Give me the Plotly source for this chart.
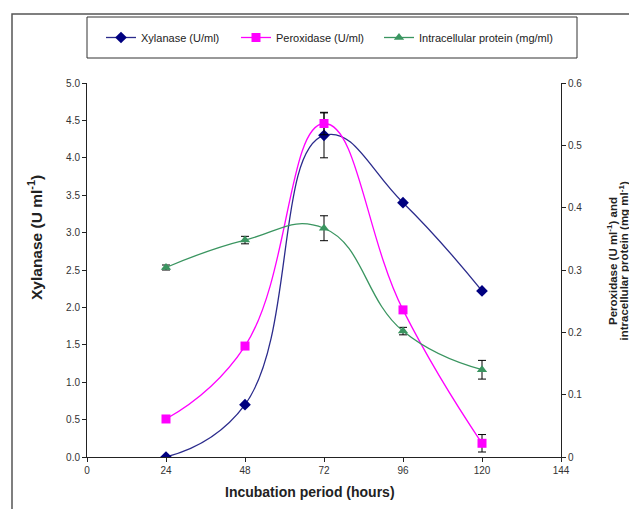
import plotly.graph_objects as go

hours = [24, 48, 72, 96, 120]
xylanase = [0.0, 0.70, 4.30, 3.40, 2.22]
xylanase_err = [0.0, 0.0, 0.30, 0.0, 0.0]
peroxidase = [0.061, 0.178, 0.535, 0.236, 0.022]
peroxidase_err = [0.0, 0.004, 0.018, 0.0, 0.014]
protein = [0.304, 0.348, 0.367, 0.202, 0.140]
protein_err = [0.004, 0.006, 0.020, 0.006, 0.015]

x_ticks = [0, 24, 48, 72, 96, 120, 144]

FONT = "Liberation Sans, Arial, sans-serif"

# page is offset by the 8px default body margin; figure coords = page - 8
W, H = 629, 501
L, R, T, B = 79, 76, 75, 52
PW = W - L - R   # 474
PH = H - T - B   # 374


def px(xp):
    return (xp - 8 - L) / PW


def py(yp):
    return (H - B - (yp - 8)) / PH


SM = 1.3
fig = go.Figure()
fig.add_trace(go.Scatter(
    x=hours, y=xylanase, name="Xylanase (U/ml)", mode="lines+markers", legend="legend",
    line=dict(color="#2B2B8C", width=1.3, shape="spline", smoothing=SM),
    marker=dict(symbol="diamond", size=9, color="#000080"),
    error_y=dict(type="data", array=xylanase_err, color="black", thickness=1, width=4, visible=True),
))
fig.add_trace(go.Scatter(
    x=hours, y=peroxidase, name="Peroxidase (U/ml)", mode="lines+markers", yaxis="y2", legend="legend2",
    line=dict(color="#FF00FF", width=1.3, shape="spline", smoothing=SM),
    marker=dict(symbol="square", size=9, color="#FF00FF"),
    error_y=dict(type="data", array=peroxidase_err, color="black", thickness=1, width=4, visible=True),
))
fig.add_trace(go.Scatter(
    x=hours, y=protein, name="Intracellular protein (mg/ml)", mode="lines+markers", yaxis="y2", legend="legend3",
    line=dict(color="#3A9560", width=1.3, shape="spline", smoothing=SM),
    marker=dict(symbol="triangle-up", size=9, color="#3A9560"),
    error_y=dict(type="data", array=protein_err, color="black", thickness=1, width=4, visible=True),
))

axis_common = dict(showline=True, linecolor="#222", linewidth=1, ticks="outside",
                   ticklen=4, tickcolor="#222", showgrid=False, zeroline=False,
                   automargin=False,
                   tickfont=dict(family=FONT, size=10, color="#333"))

leg = dict(orientation="h", xanchor="left", y=py(37.5), yanchor="middle",
           font=dict(family=FONT, size=11, color="#222"),
           bgcolor="rgba(0,0,0,0)", itemwidth=30)

title_font_r = dict(family=FONT, size=11.5, color="#222")

fig.update_layout(
    width=W, height=H,
    margin=dict(l=L, r=R, t=T, b=B, autoexpand=False),
    paper_bgcolor="white", plot_bgcolor="white",
    font=dict(family=FONT, color="#222"),
    showlegend=True,
    legend=dict(x=px(101), **leg),
    legend2=dict(x=px(236), **leg),
    legend3=dict(x=px(379), **leg),
    xaxis=dict(range=[0, 144], tickvals=x_ticks, ticktext=[str(v) for v in x_ticks],
               **axis_common),
    yaxis=dict(range=[0, 5.0], dtick=0.5, tickformat=".1f", **axis_common),
    yaxis2=dict(range=[0, 0.6], dtick=0.1, overlaying="y", side="right", **axis_common),
    annotations=[
        dict(text="<b>Incubation period (hours)</b>", xref="paper", yref="paper",
             x=px(310), y=py(492), showarrow=False, xanchor="center", yanchor="middle",
             font=dict(family=FONT, size=14, color="#222")),
        dict(text="<b>Xylanase (U ml<sup>-1</sup>)</b>", xref="paper", yref="paper",
             x=px(35), y=py(238), showarrow=False, xanchor="center", yanchor="middle",
             textangle=-90, font=dict(family=FONT, size=15.5, color="#222")),
        dict(text="<b>Peroxidase (U ml<sup>-1</sup>) and</b>",
             xref="paper", yref="paper", x=px(612), y=py(261), showarrow=False,
             xanchor="center", yanchor="middle", textangle=-90, font=title_font_r),
        dict(text="<b>intracellular protein (mg ml<sup>-1</sup>)</b>",
             xref="paper", yref="paper", x=px(623.5), y=py(261), showarrow=False,
             xanchor="center", yanchor="middle", textangle=-90, font=title_font_r),
    ],
    shapes=[
        dict(type="rect", xref="paper", yref="paper", x0=px(12), x1=px(650),
             y0=py(520), y1=py(14), line=dict(color="#555", width=1.5)),
        dict(type="rect", xref="paper", yref="paper", x0=px(87), x1=px(577),
             y0=py(58), y1=py(17), line=dict(color="#333", width=1)),
    ],
)

fig.write_html("out.html")
